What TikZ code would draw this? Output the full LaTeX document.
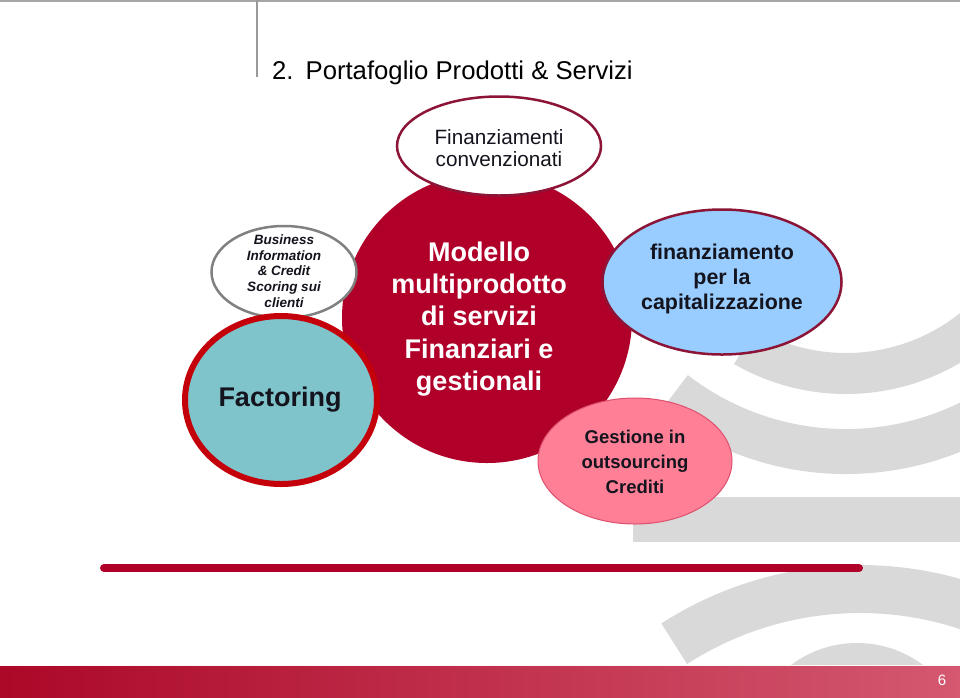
\documentclass[tikz,border=0pt]{standalone}
\usepackage{fontspec}
\setmainfont{Liberation Sans}
\usetikzlibrary{shapes.geometric}
\definecolor{crimson}{RGB}{176,0,42}
\definecolor{bandgray}{RGB}{217,217,217}
\definecolor{factred}{RGB}{196,0,10}
\definecolor{tealfill}{RGB}{127,196,202}
\definecolor{bluefill}{RGB}{153,204,255}
\definecolor{wineedge}{RGB}{140,20,55}
\definecolor{pinkfill}{RGB}{255,128,150}
\definecolor{pinkedge}{RGB}{222,80,110}
\definecolor{footleft}{RGB}{172,8,40}
\definecolor{footright}{RGB}{212,88,112}
\definecolor{darktext}{RGB}{20,20,30}
\tikzset{
  band/.style={draw=bandgray},
  bubble/.style={ellipse, inner sep=0pt, align=center},
  txt/.style={align=center, inner sep=0pt}
}
\begin{document}
\begin{tikzpicture}[x=1pt,y=-1pt]
\useasboundingbox (0,0) rectangle (960,697);
\fill[white] (0,0) rectangle (960,697);
% header lines
\draw[gray!70, line width=1.5] (0,1) -- (960,1);
\draw[gray!80, line width=1.2] (257,0) -- (257,77);
\node[anchor=base west, inner sep=0pt, font=\fontsize{25.7}{30}\selectfont] (title) at (272,79) {2.\hspace{12pt}Portafoglio Prodotti \& Servizi};
% background bands
\begin{scope}
\clip (0,0) rectangle (960,697);
\draw[band, line width=41] (846,170) ++(120:203.5) arc[start angle=120,end angle=10,radius=203.5];
\draw[band, line width=45] (846,170) ++(127.6:281.5) arc[start angle=127.6,end angle=10,radius=281.5];
\fill[bandgray] (633,497) rectangle (960,542);
\draw[band, line width=48] (860,932) ++(237.2:343) arc[start angle=237.2,end angle=330,radius=343];
\fill[bandgray] (857,753) circle[radius=110];
\end{scope}
% red rule
\draw[crimson, line width=8, line cap=round] (104,568) -- (859,568);
% footer
\shade[left color=footleft, right color=footright] (0,666) rectangle (960,697);
\draw[white!85!pink, line width=1] (0,665.5) -- (960,665.5);
\node[white, font=\fontsize{15}{17}\selectfont, inner sep=0pt] (pagenum) at (942,680) {6};
% main circle
\node[circle, fill=crimson, minimum size=290pt, inner sep=0pt] (main) at (487,318) {};
% top bubble
\node[bubble, fill=white, draw=wineedge, line width=2.5, minimum width=204pt, minimum height=99pt] (fin) at (499,146) {};
\node[txt, text=darktext, font=\fontsize{20.7}{22.5}\selectfont] (fintxt) at (499,148) {Finanziamenti\\convenzionati};
% business bubble
\node[bubble, fill=white, draw=gray, line width=2.5, minimum width=145pt, minimum height=92pt] (biz) at (284,272) {};
\node[txt, text=darktext, font=\fontsize{13.5}{15.6}\selectfont\bfseries\itshape] (biztxt) at (284,271) {Business\\Information\\\& Credit\\Scoring sui\\clienti};
% factoring bubble
\node[bubble, fill=tealfill, draw=factred, line width=6, minimum width=192pt, minimum height=168pt] (fact) at (281,400) {};
\node[txt, text=darktext, font=\fontsize{27}{30}\selectfont\bfseries] (facttxt) at (280,400) {Factoring};
% main text
\node[txt, text=white, font=\fontsize{27}{32.2}\selectfont\bfseries] (maintxt) at (479,319) {Modello\\multiprodotto\\di servizi\\Finanziari e\\gestionali};
% blue bubble
\node[bubble, fill=bluefill, draw=wineedge, line width=2.5, minimum width=239pt, minimum height=145pt] (cap) at (722,282) {};
\node[txt, text=darktext, font=\fontsize{21.4}{25}\selectfont\bfseries] (captxt) at (722,279) {finanziamento\\per la\\capitalizzazione};
% pink bubble
\node[bubble, fill=pinkfill, draw=pinkedge, line width=1, minimum width=194pt, minimum height=126pt] (out) at (635,461) {};
\node[txt, text=darktext, font=\fontsize{18.5}{25}\selectfont\bfseries] (outtxt) at (635,462) {Gestione in\\outsourcing\\Crediti};
\end{tikzpicture}
\end{document}
